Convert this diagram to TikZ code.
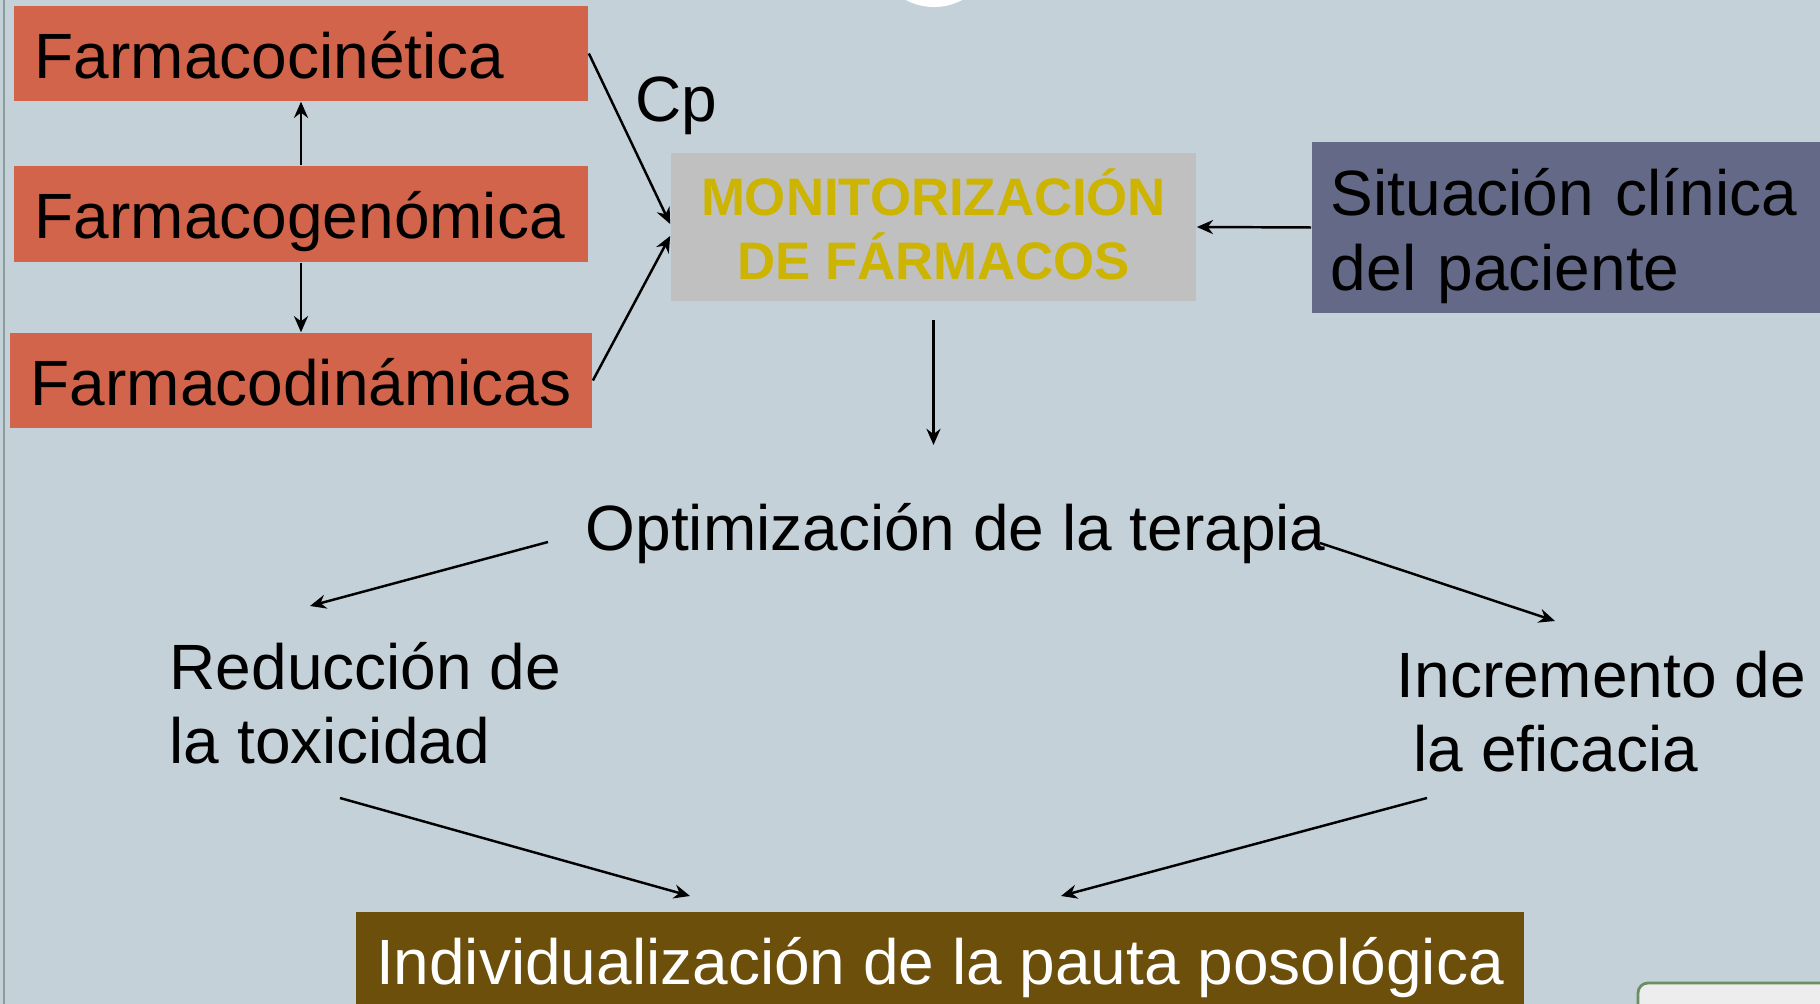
\documentclass[tikz,border=0pt]{standalone}
\usepackage{fontspec}
\setmainfont{Liberation Sans}
\usetikzlibrary{arrows.meta}

\definecolor{fondo}{HTML}{C5D1D8}
\definecolor{naranja}{HTML}{D2644B}
\definecolor{gris}{HTML}{C0C0C0}
\definecolor{amarillo}{HTML}{CCB400}
\definecolor{pizarra}{HTML}{636986}
\definecolor{marron}{HTML}{6B4F0A}
\definecolor{borde}{HTML}{8A9C9C}
\definecolor{verde}{HTML}{6A8F62}
\definecolor{claro}{HTML}{EDEDED}

\newcommand{\grande}{\fontsize{18.2}{21.3}\selectfont}

\tikzset{
  caja/.style={fill=naranja, minimum width=5.74cm, minimum height=0.95cm, text width=5.32cm,
    inner xsep=0.21cm, align=left, text height=15pt, text depth=1pt, font=\grande},
  texto/.style={inner sep=0pt, align=left, font=\grande},
  flecha/.style={-{Stealth[length=4.6pt,width=4pt]}, line width=0.7pt},
}

\begin{document}
\begin{tikzpicture}[x=0.01cm,y=-0.01cm]
\useasboundingbox (0,0) rectangle (1820,1004);
\fill[fondo] (0,0) rectangle (1820,1004);
\draw[borde, line width=0.6pt] (4,0) -- (4,1004);
\fill[white] (934,-53) circle (0.6cm);
\draw[verde, line width=0.8pt, fill=claro, rounded corners=0.1cm] (1638,983) rectangle (1840,1060);

\node[caja] (pk) at (301,53.5) {Farmacocinética};
\node[caja, minimum height=0.96cm] (pg) at (301,214) {Farmacogenómica};
\node[caja, minimum width=5.82cm, text width=5.40cm] (pd) at (301,380.5) {Farmacodinámicas};

\node[texto, anchor=base west] (cp) at (635,122) {Cp};

\node[fill=gris, minimum width=5.25cm, minimum height=1.48cm, align=center, text=amarillo,
  text height=31.6pt, text depth=2pt, font=\bfseries\fontsize{15}{18}\selectfont]
  (mon) at (933.5,227) {MONITORIZACIÓN\\DE FÁRMACOS};

\node[fill=pizarra, minimum width=5.18cm, minimum height=1.71cm, text width=4.80cm,
  inner xsep=0.19cm, align=left, text height=16pt, text depth=23pt, font=\grande]
  (sit) at (1571,227.5) {Situación clínica\\del paciente};

\node[texto, anchor=base west] (opt) at (585,551) {Optimización de la terapia};
\node[texto, anchor=base west] (red) at (169,764) {Reducción de\\la toxicidad};
\node[texto, anchor=base west] (inc) at (1396,772) {Incremento de\\\hspace*{0.17cm}la eficacia};

\node[fill=marron, text=white, minimum width=11.68cm, minimum height=0.95cm,
  text height=15pt, text depth=1pt, font=\grande]
  (ind) at (940,959.5) {Individualización de la pauta posológica};

% puntas libres
\coordinate (opt-a) at (933.5,445);
\coordinate (opt-i) at (548,542);
\coordinate (opt-d) at (1320,543);
\coordinate (red-a) at (310,606);
\coordinate (inc-a) at (1555,621);
\coordinate (red-b) at (340,798);
\coordinate (inc-b) at (1427,798);
\coordinate (ind-i) at (690,896);
\coordinate (ind-d) at (1061,896);

\draw[flecha] (pg.north) -- (pk.south);
\draw[flecha] (pg.south) -- (pd.north);
\draw[flecha] (pk.east) -- ([yshift=0.03cm]mon.west);
\draw[flecha] (pd.east) -- ([yshift=-0.09cm]mon.west);
\draw[flecha] (sit.west) -- (mon.east);
\draw[flecha, shorten <=0.18cm] (mon.south) -- (opt-a);

\draw[flecha] (opt-i) -- (red-a);
\draw[flecha] (opt-d) -- (inc-a);
\draw[flecha] (red-b) -- (ind-i);
\draw[flecha] (inc-b) -- (ind-d);
\end{tikzpicture}
\end{document}
